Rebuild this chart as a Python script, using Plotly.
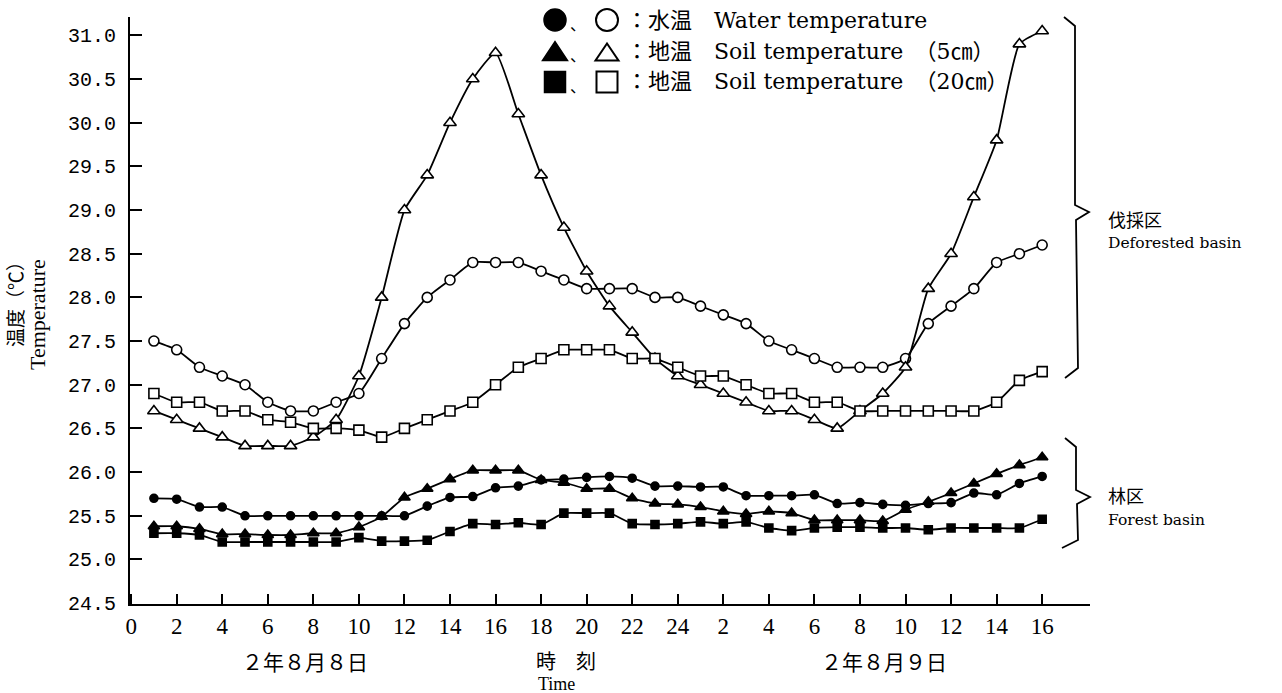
import plotly.graph_objects as go

# ---------------- data ----------------
hours = list(range(1, 41))  # 2年8月8日 1時 ... 8月9日 16時 (continuous hour index)

tick_vals = list(range(0, 41, 2))
tick_text = ["0", "2", "4", "6", "8", "10", "12", "14", "16", "18", "20", "22", "24",
             "2", "4", "6", "8", "10", "12", "14", "16"]
y_ticks = [24.5, 25.0, 25.5, 26.0, 26.5, 27.0, 27.5, 28.0, 28.5, 29.0, 29.5, 30.0, 30.5, 31.0]

# Deforested basin (open markers)
water_def = [27.5, 27.4, 27.2, 27.1, 27.0, 26.8, 26.7, 26.7, 26.8, 26.9,
             27.3, 27.7, 28.0, 28.2, 28.4, 28.4, 28.4, 28.3, 28.2, 28.1,
             28.1, 28.1, 28.0, 28.0, 27.9, 27.8, 27.7, 27.5, 27.4, 27.3,
             27.2, 27.2, 27.2, 27.3, 27.7, 27.9, 28.1, 28.4, 28.5, 28.6]
soil5_def = [26.7, 26.6, 26.5, 26.4, 26.3, 26.3, 26.3, 26.4, 26.6, 27.1,
             28.0, 29.0, 29.4, 30.0, 30.5, 30.8, 30.1, 29.4, 28.8, 28.3,
             27.9, 27.6, 27.3, 27.1, 27.0, 26.9, 26.8, 26.7, 26.7, 26.6,
             26.5, 26.7, 26.9, 27.2, 28.1, 28.5, 29.15, 29.8, 30.9, 31.05]
soil20_def = [26.9, 26.8, 26.8, 26.7, 26.7, 26.6, 26.57, 26.5, 26.5, 26.48,
              26.4, 26.5, 26.6, 26.7, 26.8, 27.0, 27.2, 27.3, 27.4, 27.4,
              27.4, 27.3, 27.3, 27.2, 27.1, 27.1, 27.0, 26.9, 26.9, 26.8,
              26.8, 26.7, 26.7, 26.7, 26.7, 26.7, 26.7, 26.8, 27.05, 27.15]

# Forest basin (filled markers)
water_for = [25.70, 25.69, 25.60, 25.60, 25.50, 25.50, 25.50, 25.50, 25.50, 25.50,
             25.50, 25.50, 25.61, 25.71, 25.72, 25.82, 25.84, 25.91, 25.92, 25.94,
             25.95, 25.93, 25.84, 25.84, 25.83, 25.83, 25.73, 25.73, 25.73, 25.74,
             25.64, 25.65, 25.63, 25.62, 25.64, 25.65, 25.76, 25.74, 25.87, 25.95]
soil5_for = [25.38, 25.38, 25.35, 25.29, 25.29, 25.28, 25.28, 25.30, 25.30, 25.37,
             25.49, 25.71, 25.81, 25.92, 26.02, 26.02, 26.02, 25.91, 25.88, 25.81,
             25.81, 25.70, 25.64, 25.63, 25.60, 25.55, 25.52, 25.55, 25.53, 25.45,
             25.45, 25.45, 25.44, 25.57, 25.66, 25.76, 25.87, 25.98, 26.08, 26.17]
soil20_for = [25.30, 25.30, 25.28, 25.20, 25.20, 25.20, 25.20, 25.20, 25.20, 25.25,
              25.21, 25.21, 25.22, 25.32, 25.41, 25.40, 25.42, 25.40, 25.53, 25.53,
              25.53, 25.41, 25.40, 25.41, 25.43, 25.41, 25.43, 25.36, 25.33, 25.36,
              25.37, 25.37, 25.36, 25.36, 25.34, 25.36, 25.36, 25.36, 25.36, 25.46]

# ---------------- layout helpers ----------------
W, H = 1282, 693
ML, MR, MT, MB = 130, 192, 17, 89


def px(x):
    return (x - ML) / (W - ML - MR)


def py(y):
    return (H - MB - y) / (H - MT - MB)


SERIF = "DejaVu Serif, Noto Sans CJK JP"
CJK = "Noto Sans CJK JP"

fig = go.Figure()

series = [
    (water_def, "circle", 10, "white"),
    (soil5_def, "triangle-up", 11, "white"),
    (soil20_def, "square", 10, "white"),
    (water_for, "circle", 8, "black"),
    (soil5_for, "triangle-up", 10, "black"),
    (soil20_for, "square", 8, "black"),
]
for vals, sym, size, fill in series:
    fig.add_trace(go.Scatter(
        x=hours, y=vals, mode="lines+markers",
        line=dict(color="black", width=1.8, shape="spline", smoothing=0.5),
        marker=dict(symbol=sym, size=size, color=fill,
                    line=dict(color="black", width=1.6)),
        showlegend=False, cliponaxis=False,
    ))

fig.update_layout(
    width=W, height=H,
    margin=dict(l=ML, r=MR, t=MT, b=MB, pad=0),
    paper_bgcolor="white", plot_bgcolor="white",
    showlegend=False,
    xaxis=dict(range=[-0.05, 42.1], tickmode="array", tickvals=tick_vals, ticktext=tick_text,
               ticks="inside", ticklen=10, tickwidth=1.5, tickcolor="black",
               showline=True, linecolor="black", linewidth=2, showgrid=False, zeroline=False,
               tickfont=dict(family="Liberation Serif", size=23, color="black"),
               ticklabelstandoff=0),
    yaxis=dict(range=[24.49, 31.21], tickmode="array", tickvals=y_ticks,
               ticktext=[f"{v:.1f}" for v in y_ticks],
               ticks="inside", ticklen=12, tickwidth=1.5, tickcolor="black",
               showline=True, linecolor="black", linewidth=2, showgrid=False, zeroline=False,
               tickfont=dict(family="Liberation Mono", size=20, color="black"),
               ticklabelstandoff=8),
)


def ann(text, x, y, size, family, xanchor="center", angle=0):
    fig.add_annotation(text=text, x=px(x), y=py(y), xref="paper", yref="paper",
                       xanchor=xanchor, yanchor="middle", showarrow=False, textangle=angle,
                       font=dict(family=family, size=size, color="black"))


# axis texts
ann("２年８月８日", 305, 661, 21, CJK)
ann("時　刻", 566, 660, 20, CJK)
ann("Time", 556, 684, 18, "Liberation Serif")
ann("２年８月９日", 884, 661, 21, CJK)
ann("温度（℃）", 14, 300, 19, CJK, angle=-90)
ann("Temperature", 38, 315, 22, "Liberation Serif", angle=-90)

# region labels
ann("伐採区", 1106, 219, 18, CJK, xanchor="left")
ann("Deforested basin", 1106, 243, 15.5, "DejaVu Serif", xanchor="left")
ann("林区", 1106, 495, 18, CJK, xanchor="left")
ann("Forest basin", 1106, 520, 15.5, "DejaVu Serif", xanchor="left")

# legend texts
legend_rows = [
    (20, "：水温\u2003Water temperature"),
    (51, "：地温\u2003Soil temperature\u2002（5㎝）"),
    (82, "：地温\u2003Soil temperature\u2002（20㎝）"),
]
for yy, txt in legend_rows:
    ann(txt, 624, yy, 22, SERIF, xanchor="left")
    ann("、", 578, yy + 3, 16, CJK)

shapes = []
P = dict(xref="paper", yref="paper")
# legend keys
r = 11
shapes.append(dict(type="circle", x0=px(555 - r), x1=px(555 + r), y0=py(20 + r), y1=py(20 - r),
                   fillcolor="black", line=dict(color="black", width=1.5), **P))
shapes.append(dict(type="circle", x0=px(607 - r), x1=px(607 + r), y0=py(20 + r), y1=py(20 - r),
                   fillcolor="white", line=dict(color="black", width=2), **P))


def tri(cx, cy, w, h):
    return (f"M {px(cx - w / 2)} {py(cy + h / 2)} L {px(cx + w / 2)} {py(cy + h / 2)} "
            f"L {px(cx)} {py(cy - h / 2)} Z")


shapes.append(dict(type="path", path=tri(555, 51, 25, 19), fillcolor="black",
                   line=dict(color="black", width=1.5), **P))
shapes.append(dict(type="path", path=tri(607, 52, 23, 17), fillcolor="white",
                   line=dict(color="black", width=2), **P))
s = 10.5
shapes.append(dict(type="rect", x0=px(555 - s), x1=px(555 + s), y0=py(82 + s), y1=py(82 - s),
                   fillcolor="black", line=dict(color="black", width=1.5), **P))
shapes.append(dict(type="rect", x0=px(607 - s), x1=px(607 + s), y0=py(82 + s), y1=py(82 - s),
                   fillcolor="white", line=dict(color="black", width=2), **P))


def brace(pts):
    p = " ".join(("M" if i == 0 else "L") + f" {px(a)} {py(b)}" for i, (a, b) in enumerate(pts))
    return dict(type="path", path=p, line=dict(color="black", width=1.8), **P)


shapes.append(brace([(1064, 17), (1075, 26), (1075, 205), (1089, 212), (1076, 220),
                     (1078, 368), (1065, 378)]))
shapes.append(brace([(1065, 438), (1076, 447), (1076, 490), (1090, 497), (1077, 504),
                     (1078, 540), (1062, 548)]))

fig.update_layout(shapes=shapes)

fig.write_html("out.html")
